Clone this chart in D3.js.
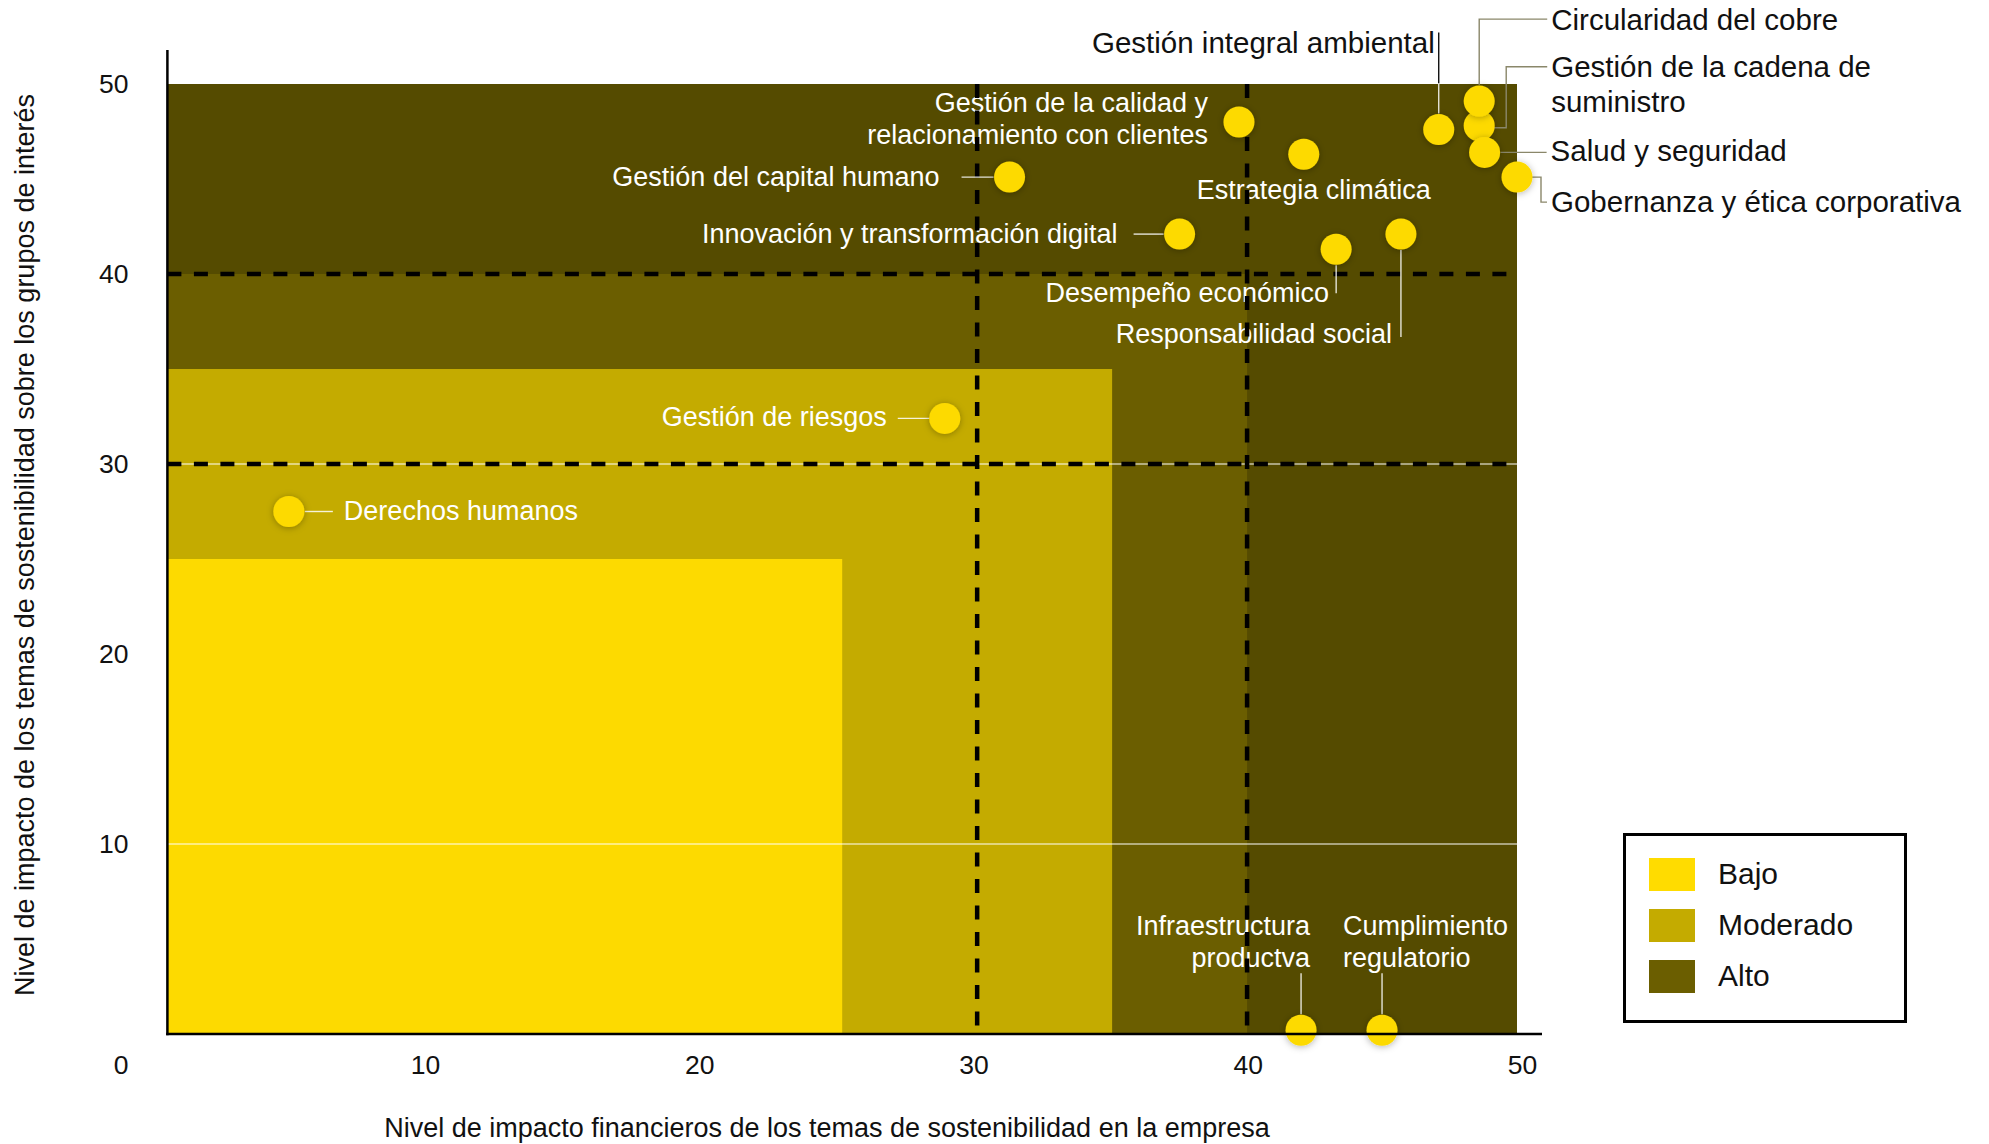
<!DOCTYPE html>
<html><head><meta charset="utf-8">
<script src="https://cdn.jsdelivr.net/npm/d3@7"></script>
<style>
html,body{margin:0;padding:0;background:#fff;}
svg{display:block;font-family:"Liberation Sans",Arial,Helvetica,sans-serif;}
</style></head><body>
<svg id="chart" width="1989" height="1144"></svg>
<script>
// ---------- DATA ----------
const topics = [
  "Derechos humanos",
  "Gestión de riesgos",
  "Gestión del capital humano",
  "Innovación y transformación digital",
  "Gestión de la calidad y\nrelacionamiento con clientes",
  "Estrategia climática",
  "Desempeño económico",
  "Responsabilidad social",
  "Gestión integral ambiental",
  "Gestión de la cadena de\nsuministro",
  "Circularidad del cobre",
  "Salud y seguridad",
  "Gobernanza y ética corporativa",
  "Infraestructura\nproductva",
  "Cumplimiento\nregulatorio"
];
const financialImpact  = [4.5, 28.8, 31.2, 37.5, 39.7, 42.1, 43.3, 45.7, 47.1, 48.6, 48.6, 48.8, 50.0, 42.0, 45.0];
const stakeholderImpact = [27.5, 32.4, 45.1, 42.1, 48.0, 46.3, 41.3, 42.1, 47.6, 47.8, 49.1, 46.4, 45.1, 0.2, 0.2];

const zoneLevels = ["Alto", "Alto", "Moderado", "Bajo"];
const zoneLimits = [50, 40, 35, 25];
const thresholds = [30, 40];
const gridValues = [10, 30];
const xTicks = [0, 10, 20, 30, 40, 50];
const yTicks = [10, 20, 30, 40, 50];
const legendLevels = ["Bajo", "Moderado", "Alto"];

const xTitle = "Nivel de impacto financieros de los temas de sostenibilidad en la empresa";
const yTitle = "Nivel de impacto de los temas de sostenibilidad sobre los grupos de interés";

// ---------- STYLE / LAYOUT ----------
const zoneFill = ["#554B00", "#6B5E00", "#C4AB00", "#FDDA00"];
const legendFill = {"Bajo": "#FFDC00", "Moderado": "#C4AB00", "Alto": "#6B5E00"};
const DOT = "#FDDA00";
const IN_LEADER = "rgba(255,255,255,0.85)";
const OUT_LEADER = "#8a876a";
const FONT = "'Liberation Sans',Arial,Helvetica,sans-serif";

// label offsets relative to dot centre (px)
const labelLayout = {
  "Derechos humanos": {anchor:"start", dx:55, dy:[8], leaders:[{c:IN_LEADER, p:[[16,0],[44,0]]}]},
  "Gestión de riesgos": {anchor:"end", dx:-58, dy:[8], leaders:[{c:IN_LEADER, p:[[-47,0],[-15,0]]}]},
  "Gestión del capital humano": {anchor:"end", dx:-70, dy:[9], leaders:[{c:IN_LEADER, p:[[-48,0],[-16,0]]}]},
  "Innovación y transformación digital": {anchor:"end", dx:-62, dy:[9], leaders:[{c:IN_LEADER, p:[[-46,0],[-16,0]]}]},
  "Gestión de la calidad y\nrelacionamiento con clientes": {anchor:"end", dx:-31, dy:[-10,22], leaders:[]},
  "Estrategia climática": {anchor:"middle", dx:10, dy:[45], leaders:[]},
  "Desempeño económico": {anchor:"end", dx:-7, dy:[53], leaders:[{c:IN_LEADER, p:[[0,16],[0,44]]}]},
  "Responsabilidad social": {anchor:"end", dx:-9, dy:[109], leaders:[{c:IN_LEADER, p:[[0,16],[0,103]]}]},
  "Gestión integral ambiental": {anchor:"end", dx:-4, dy:[-77], dark:true,
     leaders:[{c:"#111", p:[[0,-97],[0,-46]]},{c:IN_LEADER, p:[[0,-46],[0,-16]]}]},
  "Gestión de la cadena de\nsuministro": {anchor:"start", dx:72, dy:[-49,-14], dark:true,
     leaders:[{c:OUT_LEADER, p:[[14,2],[27,2],[27,-59],[68,-59]]}]},
  "Circularidad del cobre": {anchor:"start", dx:72, dy:[-71], dark:true,
     leaders:[{c:OUT_LEADER, p:[[0,-16],[0,-82],[68,-82]]}]},
  "Salud y seguridad": {anchor:"start", dx:66, dy:[9], dark:true,
     leaders:[{c:OUT_LEADER, p:[[16,0],[62,0]]}]},
  "Gobernanza y ética corporativa": {anchor:"start", dx:34, dy:[35], dark:true,
     leaders:[{c:OUT_LEADER, p:[[15,0],[24,0],[24,25],[30,25]]}]},
  "Infraestructura\nproductva": {anchor:"end", dx:9, dy:[-95,-63], leaders:[{c:IN_LEADER, p:[[0,-57],[0,-16]]}]},
  "Cumplimiento\nregulatorio": {anchor:"start", dx:-39, dy:[-95,-63], leaders:[{c:IN_LEADER, p:[[0,-57],[0,-16]]}]}
};

// ---------- CHART ----------
const svg = d3.select("#chart");
const x = d3.scaleLinear().domain([0, 50]).range([167.4, 1517]);
const y = d3.scaleLinear().domain([0, 50]).range([1034, 84]);
// tick labels in the original sit on a slightly different grid
const xLabelScale = d3.scaleLinear().domain([10, 50]).range([425, 1522]);

const defs = svg.append("defs");
const f = defs.append("filter").attr("id","sh").attr("x","-60%").attr("y","-60%").attr("width","220%").attr("height","220%");
f.append("feDropShadow").attr("dx",0).attr("dy",1).attr("stdDeviation",3.5)
  .attr("flood-color","#000").attr("flood-opacity",0.3);

// zones
svg.append("g").selectAll("rect").data(zoneLimits).join("rect")
  .attr("x", x(0)).attr("y", d => y(d))
  .attr("width", d => x(d) - x(0)).attr("height", d => y(0) - y(d))
  .attr("fill", (d, i) => zoneFill[i]);

// white grid lines
svg.append("g").selectAll("line").data(gridValues).join("line")
  .attr("x1", x(0)).attr("x2", x(50)).attr("y1", d => y(d)).attr("y2", d => y(d))
  .attr("stroke", "#fff").attr("stroke-width", 1);

const points = topics.map((t, i) => ({name: t, fx: financialImpact[i], sy: stakeholderImpact[i]}));

// labels
const lab = svg.append("g");
points.forEach(p => {
  const L = labelLayout[p.name];
  const cx = x(p.fx), cy = y(p.sy);
  const lines = p.name.split("\n");
  const t = lab.append("text").attr("text-anchor", L.anchor)
    .attr("font-size", L.dark ? 29.5 : 27)
    .attr("fill", L.dark ? "#111" : "#fff");
  lines.forEach((ln, k) => {
    t.append("tspan").attr("x", cx + L.dx).attr("y", cy + L.dy[k]).text(ln);
  });
});

// dashed threshold lines
const dash = svg.append("g").attr("stroke", "#000").attr("stroke-width", 4.5).attr("stroke-dasharray", "14,12.5");
dash.selectAll("line.v").data(thresholds).join("line").attr("class","v")
  .attr("x1", d => x(d)).attr("x2", d => x(d)).attr("y1", y(50)).attr("y2", y(0));
dash.selectAll("line.h").data(thresholds).join("line").attr("class","h")
  .attr("y1", d => y(d)).attr("y2", d => y(d)).attr("x1", x(0)).attr("x2", x(50));

// leaders
const lg = svg.append("g").attr("fill", "none");
points.forEach(p => {
  const L = labelLayout[p.name];
  const cx = x(p.fx), cy = y(p.sy);
  L.leaders.forEach(ld => {
    lg.append("path")
      .attr("d", d3.line()(ld.p.map(q => [cx + q[0], cy + q[1]])))
      .attr("stroke", ld.c).attr("stroke-width", 1.4);
  });
});

// dots
svg.append("g").selectAll("circle").data(points).join("circle")
  .attr("cx", d => x(d.fx)).attr("cy", d => y(d.sy)).attr("r", 15.5)
  .attr("fill", DOT).attr("filter", "url(#sh)");

// axes
const xAxis = svg.append("g").attr("transform", `translate(0,${y(0)})`)
  .call(d3.axisBottom(xLabelScale).tickValues(xTicks.slice(1)).tickSize(0).tickPadding(21).tickFormat(d3.format("d")));
xAxis.select(".domain").remove();
// origin label (0) sits at the lower-left corner
xAxis.append("g").attr("class", "tick").attr("transform", "translate(121,0)")
  .append("text").attr("y", 21).attr("dy", "0.71em").attr("text-anchor", "middle").text(d3.format("d")(xTicks[0]));
xAxis.selectAll("text").attr("font-size", 26.5).attr("fill", "#111").attr("font-family", FONT);

const yAxis = svg.append("g").attr("transform", `translate(${x(0)},0)`)
  .call(d3.axisLeft(y).tickValues(yTicks).tickSize(0).tickPadding(39).tickFormat(d3.format("d")));
yAxis.select(".domain").remove();
yAxis.selectAll("text").attr("font-size", 26.5).attr("fill", "#111").attr("font-family", FONT);

svg.append("line").attr("x1", x(0)).attr("x2", x(0)).attr("y1", y(50) - 34).attr("y2", y(0) + 1.2)
  .attr("stroke", "#000").attr("stroke-width", 2.5);
svg.append("line").attr("x1", x(0) - 1.2).attr("x2", x(50) + 25).attr("y1", y(0)).attr("y2", y(0))
  .attr("stroke", "#000").attr("stroke-width", 2.5);

// axis titles
svg.append("text").attr("x", 827).attr("y", 1137).attr("text-anchor", "middle")
  .attr("font-size", 27).attr("fill", "#111").text(xTitle);
svg.append("text").attr("transform", "translate(34,545) rotate(-90)").attr("text-anchor", "middle")
  .attr("font-size", 27).attr("fill", "#111").text(yTitle);

// legend
const leg = svg.append("g");
leg.append("rect").attr("x", 1624.5).attr("y", 834.5).attr("width", 281).attr("height", 187)
  .attr("fill", "#fff").attr("stroke", "#000").attr("stroke-width", 3);
const li = leg.selectAll("g.item").data(legendLevels).join("g").attr("class", "item")
  .attr("transform", (d, i) => `translate(1649,${858 + i * 51})`);
li.append("rect").attr("width", 46).attr("height", 33).attr("fill", d => legendFill[d]);
li.append("text").attr("x", 69).attr("y", 26).attr("font-size", 30).attr("fill", "#111").text(d => d);
</script>
</body></html>
